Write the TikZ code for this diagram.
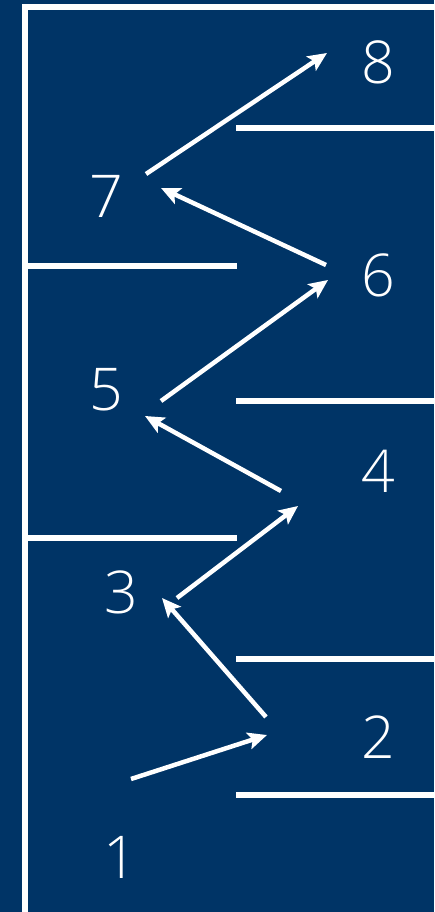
\documentclass[tikz,border=0pt]{standalone}
\usepackage{fontspec}
\setmainfont{Open Sans}[UprightFont={* Light}]
\usetikzlibrary{arrows.meta}
\definecolor{bgblue}{RGB}{0,52,102}
\tikzset{
  wall/.style={white, line width=6pt},
  steparrow/.style={white, line width=4.5pt, -{Stealth[length=19pt, width=17pt, inset=4pt]}},
  num/.style={text=white, font=\fontsize{59}{59}\selectfont, inner sep=0pt}
}
\begin{document}
\begin{tikzpicture}[x=1pt, y=-1pt]
\useasboundingbox (0,0) rectangle (434,912);
\fill[bgblue] (0,0) rectangle (434,912);
% frame
\draw[wall] (25,915) -- (25,7.5) -- (437,7.5);
% shelves
\draw[wall] (236,128.5) -- (437,128.5);
\draw[wall] (22,265.5) -- (237,265.5);
\draw[wall] (236,401) -- (437,401);
\draw[wall] (22,537.5) -- (237,537.5);
\draw[wall] (236,658.5) -- (437,658.5);
\draw[wall] (236,794.5) -- (437,794.5);
% labels
\node[num] (n8) at (378,62) {8};
\node[num] (n7) at (106,196) {7};
\node[num] (n6) at (378,275) {6};
\node[num] (n5) at (106,390) {5};
\node[num] (n4) at (378,471) {4};
\node[num] (n3) at (121,592) {3};
\node[num] (n2) at (378,737) {2};
\node[num] (n1) at (120,857) {1};
% arrow ends
\coordinate (a1s) at (131,779);
\coordinate (a1e) at (267,735);
\coordinate (a2s) at (266,717);
\coordinate (a2e) at (162,598);
\coordinate (a3s) at (177,598);
\coordinate (a3e) at (298,506);
\coordinate (a4s) at (281,491);
\coordinate (a4e) at (145,416);
\coordinate (a5s) at (161,401);
\coordinate (a5e) at (328,280);
\coordinate (a6s) at (326,265);
\coordinate (a6e) at (161,188);
\coordinate (a7s) at (146,174);
\coordinate (a7e) at (327,53);
\draw[steparrow] (a1s) -- (a1e);
\draw[steparrow] (a2s) -- (a2e);
\draw[steparrow] (a3s) -- (a3e);
\draw[steparrow] (a4s) -- (a4e);
\draw[steparrow] (a5s) -- (a5e);
\draw[steparrow] (a6s) -- (a6e);
\draw[steparrow] (a7s) -- (a7e);
\end{tikzpicture}
\end{document}
